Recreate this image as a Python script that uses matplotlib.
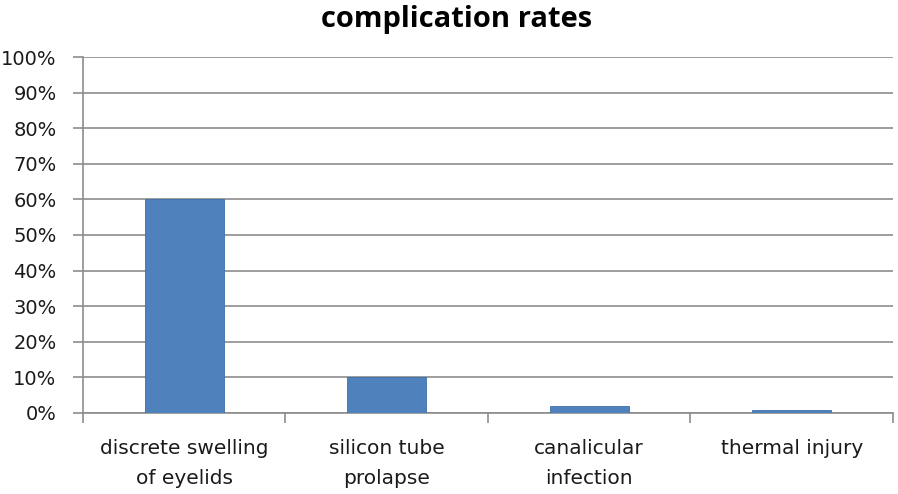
import matplotlib
matplotlib.use("Agg")
import matplotlib.pyplot as plt
from matplotlib.ticker import FuncFormatter

categories = ["discrete swelling\nof eyelids", "silicon tube\nprolapse", "canalicular\ninfection", "thermal injury"]
rates = [60, 10, 2, 0.8]
yticks = list(range(0, 101, 10))

fig = plt.figure(figsize=(8.98, 4.94), dpi=100)
ax = fig.add_axes([0.0924, 0.164, 0.902, 0.7206])

x = list(range(len(categories)))
ax.bar(x, rates, width=0.39, color="#4F81BD", edgecolor="#3E6FA8", linewidth=0.6, zorder=3)

ax.set_xlim(-0.5, len(categories) - 0.5)
ax.set_ylim(0, 100)
ax.set_yticks(yticks)
ax.yaxis.set_major_formatter(FuncFormatter(lambda v, p: f"{int(v)}%"))
ax.grid(axis="y", color="#8c8c8c", linewidth=1.2, zorder=0)

ax.set_xticks([i + 0.5 for i in range(-1, len(categories))], minor=False)
ax.set_xticklabels([])
ax.set_xticks(x, minor=True)
ax.set_xticklabels(categories, minor=True, fontsize=14.5, color="#1a1a1a", linespacing=1.7)
ax.tick_params(axis="x", which="minor", length=0, pad=19)
ax.tick_params(axis="x", which="major", length=7, width=1.2, color="#8c8c8c")
ax.tick_params(axis="y", length=7, width=1.2, color="#8c8c8c", labelsize=14, labelcolor="#1a1a1a", pad=12)

for side in ["top", "right"]:
    ax.spines[side].set_visible(False)
for side in ["left", "bottom"]:
    ax.spines[side].set_color("#8c8c8c")
    ax.spines[side].set_linewidth(1.2)

fig.text(0.508, 0.96, "complication rates", ha="center", va="center",
         fontsize=21, fontweight="bold", family="Open Sans")

fig.savefig("out.png", dpi=100)
